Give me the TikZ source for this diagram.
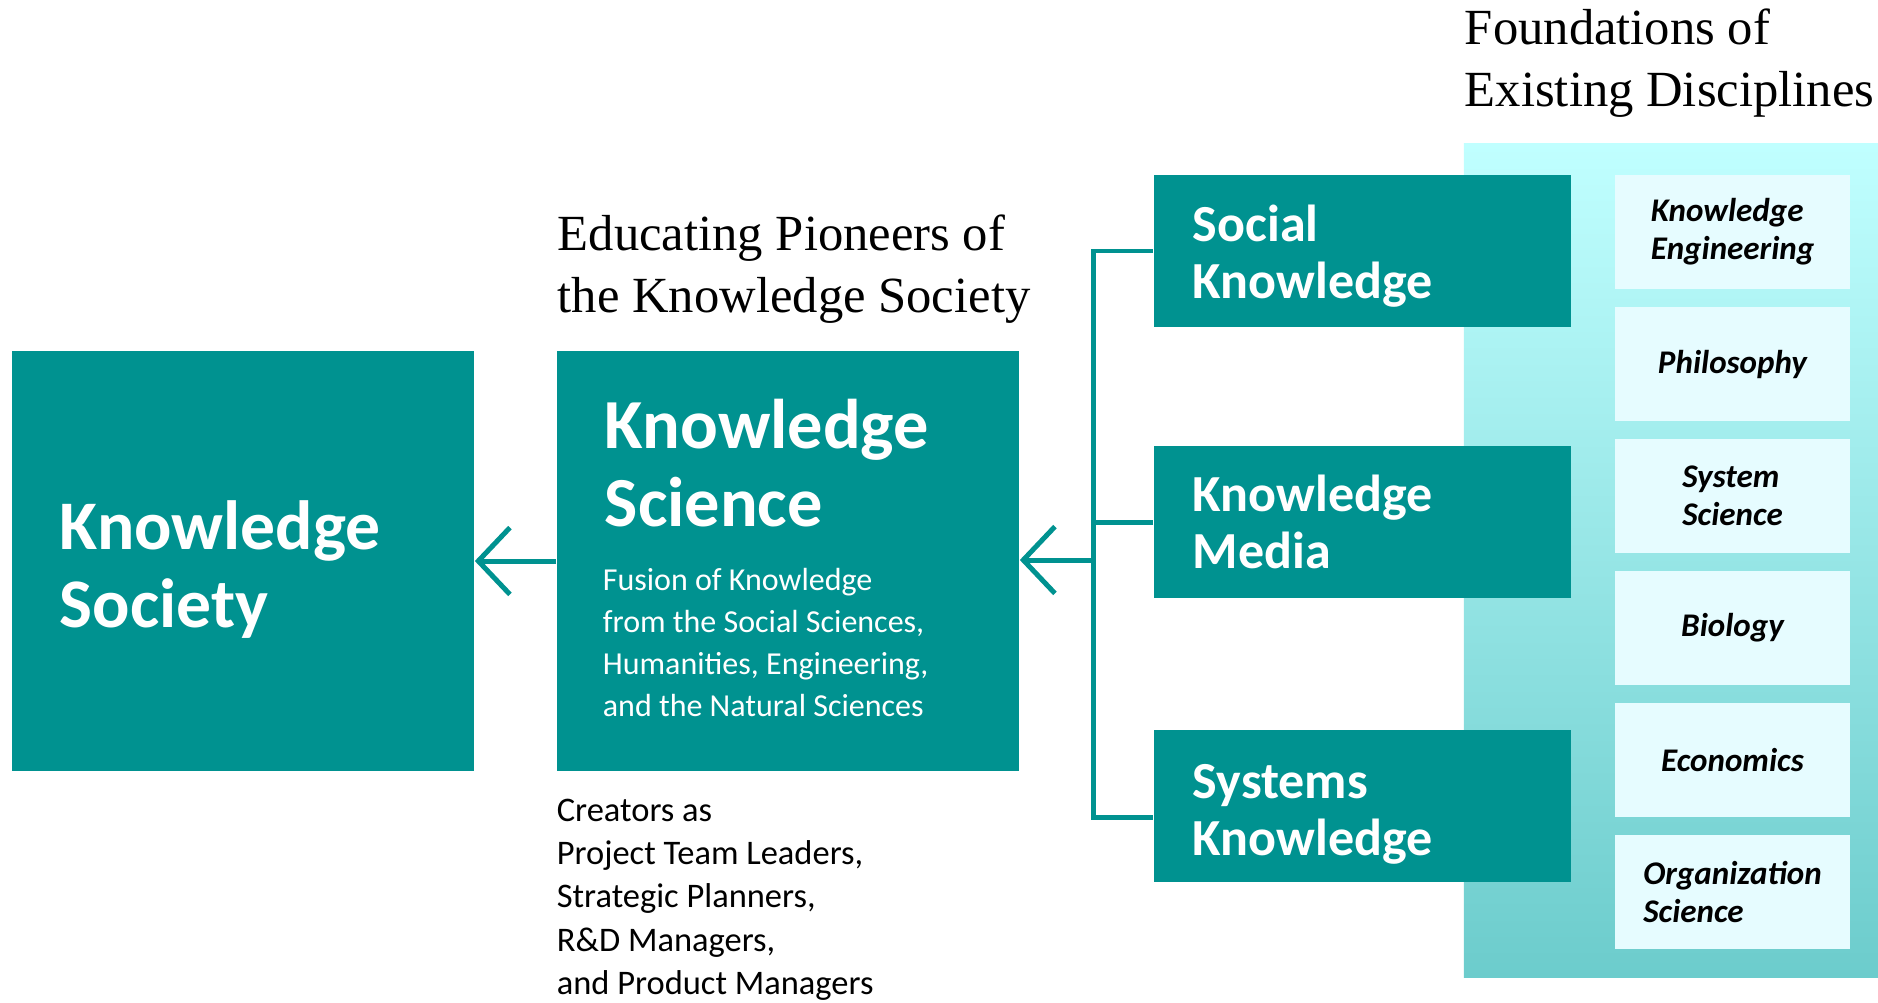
\documentclass[tikz,border=0pt]{standalone}
\usepackage{fontspec}
\setmainfont{Carlito}
\newfontfamily\serifhead{Liberation Serif}
\usetikzlibrary{arrows.meta,positioning}
\definecolor{ksteal}{RGB}{0,146,144}
\definecolor{paneltop}{RGB}{192,255,255}
\definecolor{panelbot}{RGB}{108,204,204}
\definecolor{discfill}{RGB}{230,252,255}
\begin{document}
\begin{tikzpicture}[x=0.01cm,y=-0.01cm,
  tealbox/.style={fill=ksteal,text=white,inner sep=0pt,align=left},
  discbox/.style={fill=discfill,minimum width=2.35cm,minimum height=1.14cm,inner sep=0pt,align=left,
    font=\fontsize{9.4}{10.8}\selectfont\bfseries\itshape},
  link/.style={draw=ksteal,line width=1.42pt},
  arr/.style={link,-{Straight Barb[length=9pt,width=19pt]}},
  heading/.style={anchor=base west,inner sep=0pt,align=left,font=\serifhead\fontsize{14.4}{17.6}\selectfont},
  boxtext/.style={anchor=base west,inner sep=0pt,align=left}]
\useasboundingbox (0,0) rectangle (1878,1003);

% shaded column behind the disciplines
\node (found) [top color=paneltop,bottom color=panelbot,minimum width=4.14cm,minimum height=8.33cm,inner sep=0pt] at (1671,560.5) {};
\foreach \txt [count=\i] in {{Knowledge\\Engineering},Philosophy,{System\\Science},Biology,Economics,{Organization\\Science}}
  \node (d\i) [discbox] at (1732.5,{100+132*\i}) {\txt};
\node (foundhead) [heading] at ([shift={(1,-37)}]found.north west) {Foundations of\\Existing Disciplines};

% the three fields
\node (social) [tealbox,text width=3.39cm,inner xsep=0.39cm,minimum height=1.52cm,font=\fontsize{14.8}{16.2}\selectfont\bfseries] at (1362.5,251) {\rule{0pt}{0.47cm}Social\\Knowledge};
\node (media) [tealbox,text width=3.39cm,inner xsep=0.39cm,minimum height=1.52cm,font=\fontsize{14.8}{16.2}\selectfont\bfseries] at (1362.5,522) {Knowledge\\Media};
\node (systems) [tealbox,text width=3.39cm,inner xsep=0.39cm,minimum height=1.52cm,font=\fontsize{14.8}{16.2}\selectfont\bfseries] at (1362.5,806) {\rule{0pt}{0.51cm}Systems\\Knowledge};

% knowledge science and society
\node (sci) [tealbox,minimum width=4.62cm,minimum height=4.2cm] at (788,561) {};
\node (scititle) [boxtext,text=white,font=\fontsize{20}{22.2}\selectfont\bfseries] at ([shift={(48,176)}]sci.north west) {Knowledge\\Science};
\node (scisub) [boxtext,text=white,font=\fontsize{9.1}{11.9}\selectfont] at ([shift={(46,366)}]sci.north west) {Fusion of Knowledge\\from the Social Sciences,\\Humanities, Engineering,\\and the Natural Sciences};
\node (scihead) [heading] at ([shift={(1,-38)}]sci.north west) {Educating Pioneers of\\the Knowledge Society};
\node (creators) [boxtext,font=\fontsize{9.8}{12.35}\selectfont] at ([shift={(0,223)}]sci.south west) {Creators as\\Project Team Leaders,\\Strategic Planners,\\R\&D Managers,\\and Product Managers};
\node (soc) [tealbox,minimum width=4.62cm,minimum height=4.2cm] at (243,561) {};
\node (soctitle) [boxtext,text=white,font=\fontsize{19.8}{22.2}\selectfont\bfseries] at ([shift={(48,277)}]soc.north west) {Knowledge\\Society};

% connectors
\coordinate (fork) at (1093,560);
\draw[link] (social.west) -| (fork) |- ([yshift=-0.11cm]systems.west);
\draw[link] (media.west) -- (fork |- media.west);
\draw[arr] (fork) -- (sci.east |- fork);
\draw[arr] (sci.west) -- (soc.east);
\end{tikzpicture}
\end{document}
